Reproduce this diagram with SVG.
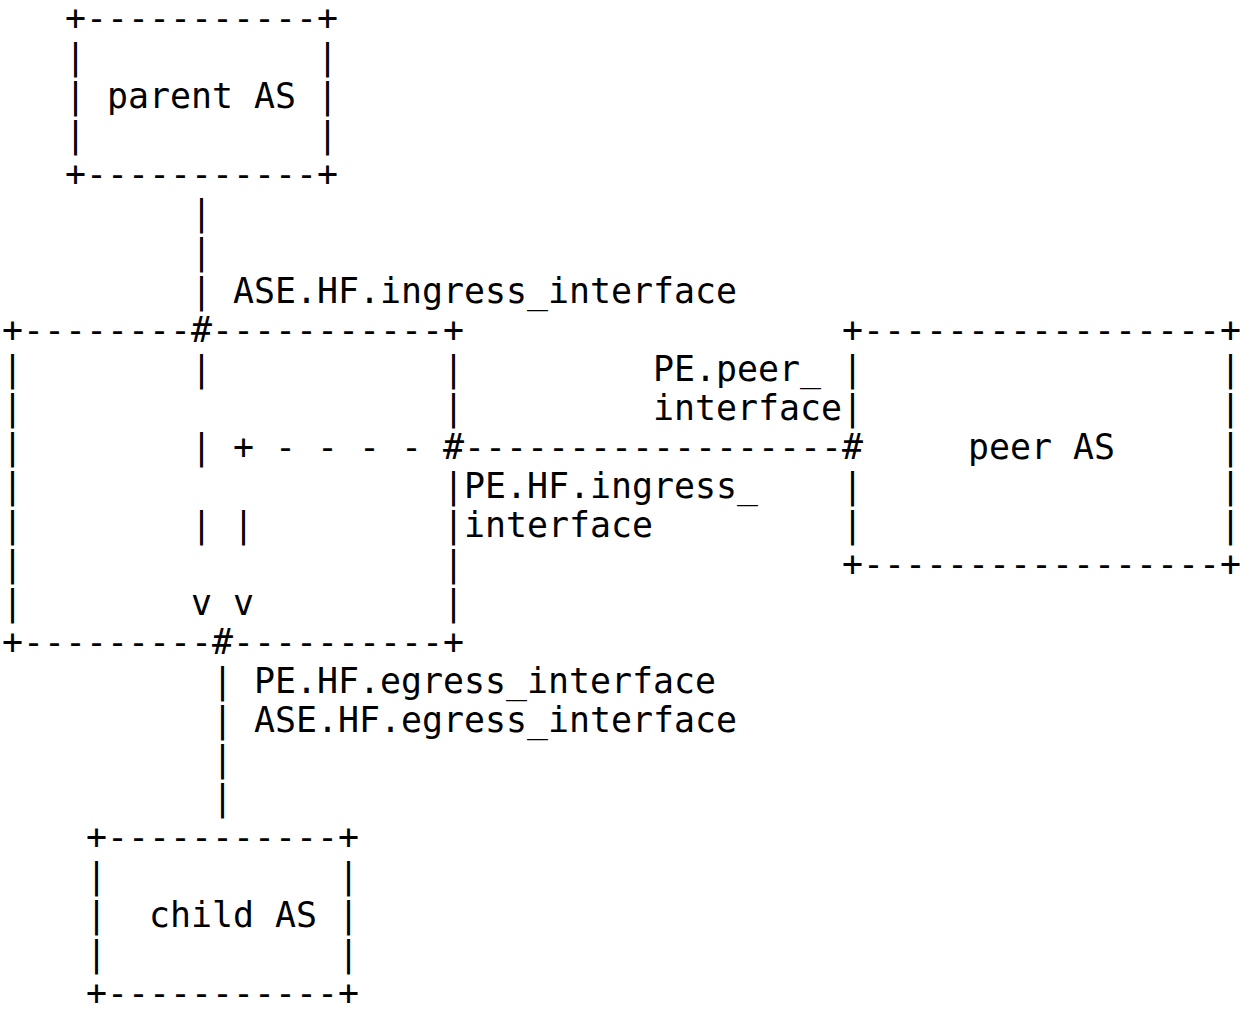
<svg xmlns="http://www.w3.org/2000/svg" width="1242" height="1017" viewBox="0 0 1242 1017" xml:space="preserve">
<style>
text { font-family: "DejaVu Sans Mono", "Liberation Mono", monospace; font-size: 34.88px; fill: #000; white-space: pre; }
</style>
<rect x="0" y="0" width="1242" height="1017" fill="#fff"/>
<g id="parent-as">
<text x="65" y="30">+-----------+</text>
<text x="65" y="69">|           |</text>
<text x="65" y="108">| parent AS |</text>
<text x="65" y="147">|           |</text>
<text x="65" y="186">+-----------+</text>
</g>
<g id="transit-as">
<text x="2" y="342">+--------#-----------+</text>
<text x="2" y="381">|</text><text x="443" y="381">|</text>
<text x="2" y="420">|</text><text x="443" y="420">|</text>
<text x="2" y="459">|</text>
<text x="2" y="498">|</text><text x="443" y="498">|</text>
<text x="2" y="537">|</text><text x="443" y="537">|</text>
<text x="2" y="576">|</text><text x="443" y="576">|</text>
<text x="2" y="615">|</text><text x="443" y="615">|</text>
<text x="2" y="654">+---------#----------+</text>
</g>
<g id="peer-as">
<text x="842" y="342">+-----------------+</text>
<text x="842" y="381">|</text><text x="1220" y="381">|</text>
<text x="842" y="420">|</text><text x="1220" y="420">|</text>
<text x="968" y="459">peer AS</text><text x="1220" y="459">|</text>
<text x="842" y="498">|</text><text x="1220" y="498">|</text>
<text x="842" y="537">|</text><text x="1220" y="537">|</text>
<text x="842" y="576">+-----------------+</text>
</g>
<g id="child-as">
<text x="86" y="849">+-----------+</text>
<text x="86" y="888">|           |</text>
<text x="86" y="927">|  child AS |</text>
<text x="86" y="966">|           |</text>
<text x="86" y="1005">+-----------+</text>
</g>
<g id="connectors">
<text x="191" y="225">|</text>
<text x="191" y="264">|</text>
<text x="191" y="303">|</text>
<text x="191" y="381">|</text>
<text x="191" y="459">| + - - - - #------------------#</text>
<text x="191" y="537">| |</text>
<text x="191" y="615">v v</text>
<text x="212" y="693">|</text>
<text x="212" y="732">|</text>
<text x="212" y="771">|</text>
<text x="212" y="810">|</text>
</g>
<g id="labels">
<text x="233" y="303">ASE.HF.ingress_interface</text>
<text x="653" y="381">PE.peer_</text>
<text x="653" y="420">interface</text>
<text x="464" y="498">PE.HF.ingress_</text>
<text x="464" y="537">interface</text>
<text x="254" y="693">PE.HF.egress_interface</text>
<text x="254" y="732">ASE.HF.egress_interface</text>
</g>
</svg>
